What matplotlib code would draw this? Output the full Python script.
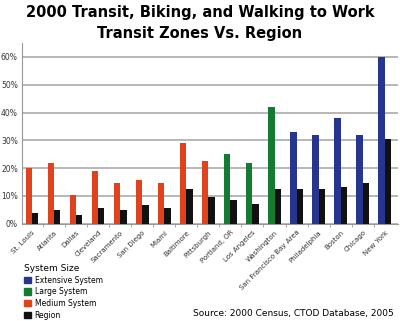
import numpy as np
import matplotlib
matplotlib.use('Agg')
from matplotlib import pyplot as plt
from matplotlib.patches import Patch

# Share of commuters using transit, bike or walking (percent)
cities = ['St. Louis', 'Atlanta', 'Dallas', 'Cleveland', 'Sacramento', 'San Diego',
          'Miami', 'Baltimore', 'Pittsburgh', 'Portland, OR', 'Los Angeles',
          'Washington', 'San Francisco Bay Area', 'Philadelphia', 'Boston',
          'Chicago', 'New York']
system_size = ['medium'] * 9 + ['large'] * 3 + ['extensive'] * 5
transit_zone = [20.2, 22.0, 10.5, 18.8, 14.5, 15.6, 14.8, 28.9, 22.4,
                25.0, 22.0, 42.0, 33.0, 31.9, 37.9, 31.9, 60.0]
region = [4.0, 4.8, 3.1, 5.6, 4.8, 6.7, 5.7, 12.4, 9.7,
          8.6, 7.1, 12.4, 12.6, 12.5, 13.1, 14.6, 30.3]

colors = {'extensive': '#27358f', 'large': '#157a32', 'medium': '#e0421e'}
region_color = '#111111'

fig = plt.figure(figsize=(4.0, 3.21), dpi=100)
ax = fig.add_axes([0.055, 0.303, 0.94, 0.563])

x = np.arange(len(cities))
w = 0.29
ax.bar(x - w / 2, transit_zone, w, color=[colors[s] for s in system_size], zorder=3)
ax.bar(x + w / 2, region, w, color=region_color, zorder=3)

ax.set_xlim(-0.45, len(cities) - 1 + 0.6)
ax.set_ylim(0, 65)
ax.set_yticks(range(0, 61, 10))
ax.set_yticklabels([f'{v}%' for v in range(0, 61, 10)], fontsize=5.5, color='#333333')
ax.yaxis.grid(True, color='#aaaaaa', linewidth=1.2, zorder=0)
ax.tick_params(axis='y', length=0, pad=3)

ax.set_xticks(x)
ax.set_xticklabels(cities, rotation=45, ha='right', rotation_mode='anchor',
                   fontsize=5, color='#333333')
ax.tick_params(axis='x', length=0, pad=4)
ax.set_xticks(x[:-1] + 0.5, minor=True)
ax.tick_params(axis='x', which='minor', length=2, color='#999999')

for side in ['top', 'right']:
    ax.spines[side].set_visible(False)
ax.spines['left'].set_color('#999999')
ax.spines['bottom'].set_color('#999999')

fig.text(0.5, 0.962, '2000 Transit, Biking, and Walking to Work',
         ha='center', va='center', fontsize=10.5, fontweight='bold')
fig.text(0.5, 0.897, 'Transit Zones Vs. Region',
         ha='center', va='center', fontsize=10.5, fontweight='bold')

handles = [Patch(color=colors['extensive'], label='Extensive System'),
           Patch(color=colors['large'], label='Large System'),
           Patch(color=colors['medium'], label='Medium System'),
           Patch(color=region_color, label='Region')]
leg = fig.legend(handles=handles, title='System Size', loc='upper left',
                 bbox_to_anchor=(0.05, 0.19), frameon=False, fontsize=5.5,
                 title_fontsize=6.5, handlelength=0.9, handleheight=0.9,
                 handletextpad=0.5, labelspacing=0.35, borderpad=0)
leg._legend_box.align = 'left'

fig.text(0.985, 0.008, 'Source: 2000 Census, CTOD Database, 2005',
         ha='right', va='bottom', fontsize=6.5)

fig.savefig('out.png', dpi=100)
